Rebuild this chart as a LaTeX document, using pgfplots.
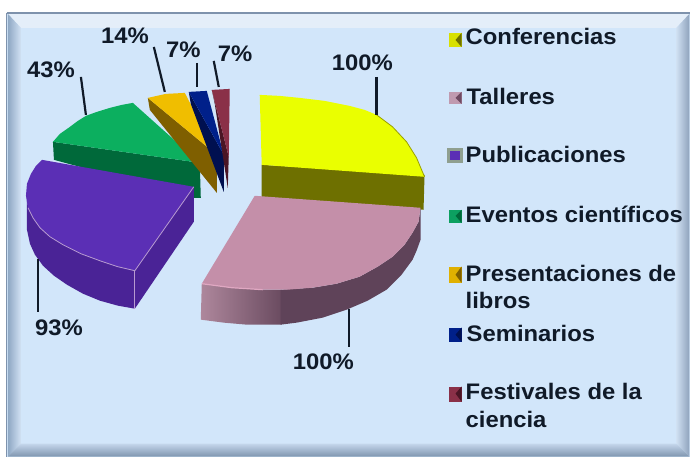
\documentclass[border=0pt]{standalone}
\usepackage{pgfplots}
\pgfplotsset{compat=1.18}
\usepackage{fontspec}
\setmainfont{Liberation Sans}[FakeStretch=1.06]
\definecolor{ink}{HTML}{101A28}
\definecolor{bgc}{HTML}{D2E6FA}
\definecolor{bevT}{HTML}{E4EEF9}
\definecolor{bevLa}{HTML}{8FA8C4}
\definecolor{bevLb}{HTML}{D2E2F4}
\definecolor{bevRa}{HTML}{D0E0F2}
\definecolor{bevRb}{HTML}{8FA3BD}
\definecolor{bevBa}{HTML}{C5D7EC}
\definecolor{bevBb}{HTML}{7F95AF}
\definecolor{edge}{HTML}{7E92AC}
\definecolor{yelD}{HTML}{6E7000}
\definecolor{yelT}{HTML}{EAFF00}
\definecolor{yelL}{HTML}{9AA000}
\definecolor{pinkA}{HTML}{AE879C}
\definecolor{pinkB}{HTML}{6A4B60}
\definecolor{pinkC}{HTML}{5F4359}
\definecolor{pinkT}{HTML}{C48FA9}
\definecolor{pinkL}{HTML}{E0A8C2}
\definecolor{greD}{HTML}{00693A}
\definecolor{greT}{HTML}{0CAF5F}
\definecolor{purD}{HTML}{4A2396}
\definecolor{purT}{HTML}{5B2FB5}
\definecolor{purL}{HTML}{B79AD0}
\definecolor{golD}{HTML}{7F5F00}
\definecolor{golT}{HTML}{F0BE00}
\definecolor{bluD}{HTML}{001050}
\definecolor{bluT}{HTML}{00208A}
\definecolor{marD}{HTML}{4A1525}
\definecolor{marT}{HTML}{8A3048}
\definecolor{swY}{HTML}{D8E000}
\definecolor{swP}{HTML}{C09AB0}
\definecolor{swPd}{HTML}{6F4A62}
\definecolor{swG}{HTML}{8F9F8F}
\definecolor{swE}{HTML}{0CA060}
\definecolor{swO}{HTML}{E0B000}
\newcommand\poly[2]{\addplot[fill=#1,draw=none,forget plot] coordinates {#2};}
\newcommand\lead[1]{\addplot[draw=ink,line width=2.2bp,forget plot] coordinates {#1};}
\newcommand\lab[3]{\node[anchor=base west,inner sep=0pt,text=ink,font=\fontsize{22.5bp}{24bp}\selectfont\bfseries] at (axis cs:#1,#2) {#3};}
\begin{document}
\begin{tikzpicture}
\begin{axis}[width=691bp,height=458bp,scale only axis,xmin=0,xmax=691,ymin=0,ymax=458,y dir=reverse,hide axis,clip=false]
% background and bevelled frame
\poly{white}{(0,0)(691,0)(691,458)(0,458)}
\poly{bgc}{(7,13)(691,13)(691,457)(7,457)}
\poly{bevT}{(8,14)(690,14)(677,28)(21,28)}
\addplot[draw=none,forget plot,left color=bevLa,right color=bevLb] coordinates {(8,14)(21,28)(21,444)(8,457)};
\addplot[draw=none,forget plot,left color=bevRa,right color=bevRb] coordinates {(690,14)(677,28)(677,444)(690,457)};
\addplot[draw=none,forget plot,top color=bevBa,bottom color=bevBb] coordinates {(8,457)(21,444)(677,444)(690,457)};
\addplot[draw=edge,line width=1.5bp,forget plot] coordinates {(7,13)(691,13)};
\addplot[draw=edge,line width=1bp,forget plot] coordinates {(7,13)(7,457)};
% Conferencias
\poly{yelD}{(262,165)(425,175)(424,210)(262,197)}
\poly{yelT}{(260,95)(280,96)(300,98)(325,101)(350,106)(365,110)(377,115)(393,127)(407,142)(417,158)(425,177)(262,165)}
\addplot[draw=yelL,line width=0.8bp,forget plot] coordinates {(377,115)(393,127)(407,142)(417,158)(425,177)};
% Talleres
\addplot[draw=none,forget plot,left color=pinkA,right color=pinkB] coordinates {(202,284)(232,288)(263,290)(282,290)(282,325)(272,325)(247,325)(224,323)(201,320)};
\poly{pinkC}{(281,290)(313,288)(337,284)(360,277)(378,267)(393,257)(405,245)(413,233)(419,222)(421,208)(421,240)(417,251)(413,260)(402,275)(387,290)(368,301)(347,310)(323,318)(297,323)(281,325)}
\poly{pinkT}{(255,196)(421,208)(419,222)(413,233)(405,245)(393,257)(378,267)(360,277)(337,284)(313,288)(288,290)(263,290)(232,288)(202,284)}
\addplot[draw=pinkL,line width=1.2bp,forget plot] coordinates {(202,284)(232,288)(263,290)};
% Eventos cientificos
\poly{greD}{(53,142)(200,163)(201,198)(194,198)(54,160)}
\poly{greT}{(133,103)(200,163)(53,142)(60,134)(70,127)(78,121)(86,116)(97,112)(110,108)(122,105)}
% Publicaciones
\poly{purD}{(135,271)(194,187)(194,222)(135,309)}
\poly{purD}{(27,195)(28,208)(33,218)(40,228)(50,237)(63,245)(81,254)(100,261)(118,267)(135,271)(135,309)(118,306)(100,301)(83,294)(67,285)(54,276)(43,266)(35,255)(30,244)(27,230)(27,210)}
\poly{purT}{(42,160)(194,187)(135,271)(118,267)(100,261)(81,254)(63,245)(50,237)(40,228)(33,218)(28,208)(26,196)(27,184)(31,174)(36,166)}
\addplot[draw=purL,line width=0.8bp,forget plot] coordinates {(28,208)(33,218)(40,228)(50,237)(63,245)(81,254)(100,261)(118,267)(135,271)(194,187)};
\addplot[draw=purL,line width=0.8bp,forget plot] coordinates {(135,271)(135,309)};
% Presentaciones de libros
\poly{golD}{(148,98)(217,155)(217,193)(150,110)}
\poly{golT}{(148,98)(166,94)(185,93)(217,155)}
% Seminarios
\poly{bluD}{(189,92)(224,155)(224,192)(191,104)}
\poly{bluT}{(189,92)(207,91)(224,155)}
% Festivales de la ciencia
\poly{marD}{(212,90)(229,157)(228,188)(215,104)}
\poly{marT}{(212,90)(230,89)(229,157)}
% leader lines
\lead{(154,47)(165,92)}
\lead{(197,63)(197,87)}
\lead{(214,61)(219,87)}
\lead{(81,77)(86,115)}
\lead{(377,77)(377,115)}
\lead{(38,259)(38,312)}
\lead{(349,309)(349,347)}
% value labels
\lab{101}{44}{14\%}
\lab{166}{58}{7\%}
\lab{218}{62}{7\%}
\lab{27}{78}{43\%}
\lab{332}{71}{100\%}
\lab{35}{336}{93\%}
\lab{293}{370}{100\%}
% legend swatches
\poly{swY}{(449,33)(462,33)(462,47)(449,47)}
\poly{yelD}{(462,33)(462,47)(456,40)}
\poly{swP}{(449,92)(462,92)(462,104)(449,104)}
\poly{swPd}{(462,92)(462,104)(456,98)}
\poly{swG}{(447,148)(463,148)(463,163)(447,163)}
\poly{purT}{(450,151)(460,151)(460,160)(450,160)}
\poly{swE}{(449,210)(462,210)(462,223)(449,223)}
\poly{greD}{(462,210)(462,223)(456,216)}
\poly{swO}{(449,267)(462,267)(462,283)(449,283)}
\poly{golD}{(462,267)(462,283)(456,275)}
\poly{bluT}{(449,328)(462,328)(462,342)(449,342)}
\poly{bluD}{(462,328)(462,342)(456,335)}
\poly{marT}{(449,387)(462,387)(462,402)(449,402)}
\poly{marD}{(462,387)(462,402)(456,394)}
% legend text
\lab{466}{45}{Conferencias}
\lab{467}{105}{Talleres}
\lab{466}{163}{Publicaciones}
\lab{466}{223}{Eventos científicos}
\lab{466}{282}{Presentaciones de}
\lab{466}{309}{libros}
\lab{467}{342}{Seminarios}
\lab{466}{400}{Festivales de la}
\lab{466}{428}{ciencia}
\end{axis}
\end{tikzpicture}
\end{document}
